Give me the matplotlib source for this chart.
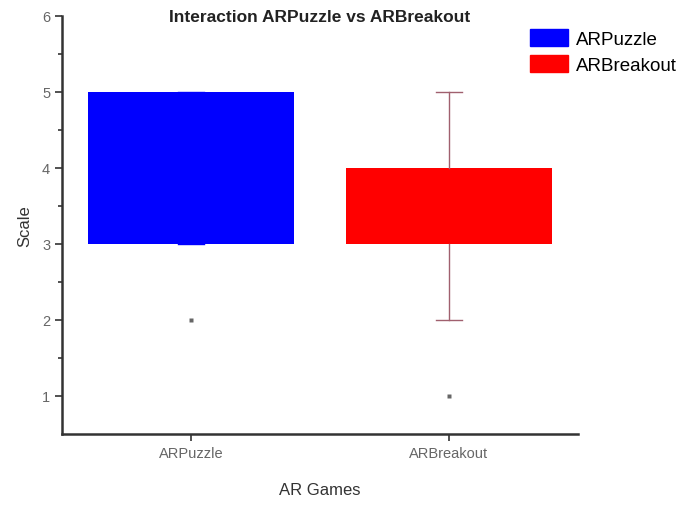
import matplotlib
matplotlib.use("Agg")
import matplotlib.pyplot as plt
from matplotlib.patches import Patch

plt.rcParams['font.family'] = ['Liberation Sans', 'DejaVu Sans']

games = ["ARPuzzle", "ARBreakout"]
colors = ["#0000ff", "#ff0000"]
q1 = [3, 3]
q3 = [5, 4]
med = [3, 3]
whislo = [3, 2]
whishi = [5, 5]
fliers = [[2], [1]]

stats = []
for i in range(len(games)):
    stats.append({"label": games[i], "q1": q1[i], "q3": q3[i], "med": med[i],
                  "whislo": whislo[i], "whishi": whishi[i], "fliers": fliers[i]})

fig = plt.figure(figsize=(6.87, 5.06), dpi=100)
ax = fig.add_axes([62/687, 1 - 435/506, (578-62)/687, (435-17)/506])

bp = ax.bxp(stats, positions=[1, 2], widths=0.8, capwidths=0.1, patch_artist=True,
            showcaps=True,
            boxprops=dict(linewidth=0),
            whiskerprops=dict(color="#a0606e", linewidth=1),
            capprops=dict(color="#a0606e", linewidth=1),
            medianprops=dict(linewidth=0),
            flierprops=dict(marker="s", markersize=2.2, markerfacecolor="#666666",
                            markeredgecolor="none"))
for box, c in zip(bp["boxes"], colors):
    box.set_facecolor(c)
    box.set_edgecolor(c)
for w in bp["whiskers"][:2] + bp["caps"][:2]:
    w.set_color(colors[0])

ax.set_xlim(0.5, 2.5)
ax.set_ylim(0.5, 6)
ax.set_yticks([1, 2, 3, 4, 5, 6])
ax.set_yticks([1.5, 2.5, 3.5, 4.5, 5.5], minor=True)
ax.set_xticks([1, 2])
ax.set_xticklabels(games)
ax.spines["top"].set_visible(False)
ax.spines["right"].set_visible(False)
ax.spines["left"].set_linewidth(1.8)
ax.spines["bottom"].set_linewidth(1.8)
ax.spines["left"].set_color("#333333")
ax.spines["bottom"].set_color("#333333")
ax.tick_params(axis="both", which="major", length=5, width=1.2, colors="#333333",
               labelcolor="#666666", labelsize=10.5)
ax.tick_params(axis="y", which="minor", length=3, width=1.2, colors="#333333")

fig.text(320/687, 1 - 17/506, "Interaction ARPuzzle vs ARBreakout", fontsize=12.5,
         fontweight="bold", color="#222222", ha="center", va="center")
ax.set_xlabel("AR Games", fontsize=12, color="#333333", labelpad=16)
ax.set_ylabel("Scale", fontsize=12, color="#333333", labelpad=7)

handles = [Patch(facecolor=colors[0], edgecolor=colors[0], label=games[0]),
           Patch(facecolor=colors[1], edgecolor=colors[1], label=games[1])]
fig.legend(handles=handles, loc="upper left", bbox_to_anchor=(530/687, 1 - 30/506),
           frameon=False, fontsize=13.5, handlelength=2.0, handleheight=1.0,
           handletextpad=0.43, labelspacing=0.39, borderpad=0, borderaxespad=0)

fig.savefig("out.png", dpi=100)
